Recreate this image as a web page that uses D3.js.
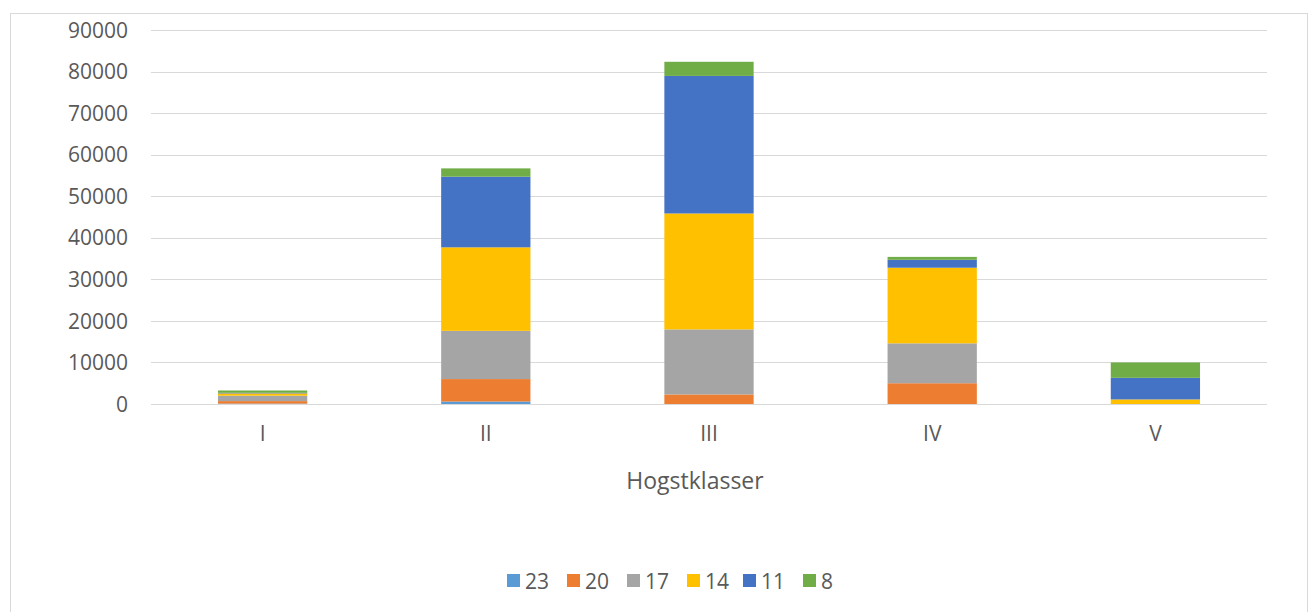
<!DOCTYPE html>
<html><head><meta charset="utf-8">
<script src="https://cdn.jsdelivr.net/npm/d3@7"></script>
<style>
body{margin:0;background:#fff;}
text{font-family:"Open Sans","Noto Sans",sans-serif;fill:#595959;}
</style></head><body>
<svg id="c" width="1309" height="612"></svg>
<script>
const categories = ["I","II","III","IV","V"];
const seriesNames = ["23","20","17","14","11","8"];
const s23 = [100, 600, 0, 0, 0];
const s20 = [600, 5400, 2300, 5000, 0];
const s17 = [1300, 11600, 15650, 9600, 0];
const s14 = [550, 20100, 27900, 18200, 1100];
const s11 = [150, 17000, 33100, 1900, 5200];
const s8  = [550, 2000, 3400, 700, 3700];
const yTicks = [0,10000,20000,30000,40000,50000,60000,70000,80000,90000];
const colors = ["#5B9BD5","#ED7D31","#A5A5A5","#FFC000","#4472C4","#70AD47"];
const xTitle = "Hogstklasser";

const rows = categories.map((c,i)=>({cat:c,"23":s23[i],"20":s20[i],"17":s17[i],"14":s14[i],"11":s11[i],"8":s8[i]}));
const stack = d3.stack().keys(seriesNames)(rows);

const svg = d3.select("#c");
svg.append("rect").attr("x",10.5).attr("y",13.5).attr("width",1297).attr("height",610)
  .attr("fill","none").attr("stroke","#d9d9d9");

const x = d3.scaleBand().domain(categories).range([151,1267]).paddingInner(0.6).paddingOuter(0.3);
const y = d3.scaleLinear().domain([0,90000]).range([404,30]);

const grid = svg.append("g");
grid.selectAll("line").data(yTicks).join("line")
  .attr("x1",151).attr("x2",1267)
  .attr("y1",d=>Math.round(y(d))+0.5).attr("y2",d=>Math.round(y(d))+0.5)
  .attr("stroke","#d9d9d9").attr("stroke-width",1);

const yAxis = svg.append("g").attr("transform","translate(151,0)")
  .call(d3.axisLeft(y).tickValues(yTicks).tickSize(0).tickPadding(23).tickFormat(d3.format("d")));
yAxis.select(".domain").remove();
yAxis.selectAll("text").style("font-size","21px").attr("fill","#595959").attr("dy","0.34em");

svg.append("g").selectAll("g").data(stack).join("g")
  .attr("fill",(d,i)=>colors[i])
  .selectAll("rect").data(d=>d).join("rect")
  .attr("x",d=>x(d.data.cat)).attr("width",x.bandwidth())
  .attr("y",d=>y(d[1])).attr("height",d=>Math.max(0,y(d[0])-y(d[1])));

const xAxis = svg.append("g").attr("transform","translate(0,404)")
  .call(d3.axisBottom(x).tickSize(0).tickPadding(22));
xAxis.select(".domain").attr("stroke","#d9d9d9").attr("d","M151,0.5H1267");
xAxis.selectAll("text").style("font-size","21px").attr("fill","#595959");

svg.append("text").attr("x",695).attr("y",489).attr("text-anchor","middle")
  .style("font-size","23px").text(xTitle);

const leg = svg.append("g");
const lx = d3.scaleOrdinal().domain(seriesNames).range([507,567,627,687,743,803]);
seriesNames.forEach((n,i)=>{
  leg.append("rect").attr("x",lx(n)).attr("y",574).attr("width",13).attr("height",13).attr("fill",colors[i]);
  leg.append("text").attr("x",lx(n)+18).attr("y",581).attr("dy","0.36em").style("font-size","21px").text(n);
});
</script></body></html>
